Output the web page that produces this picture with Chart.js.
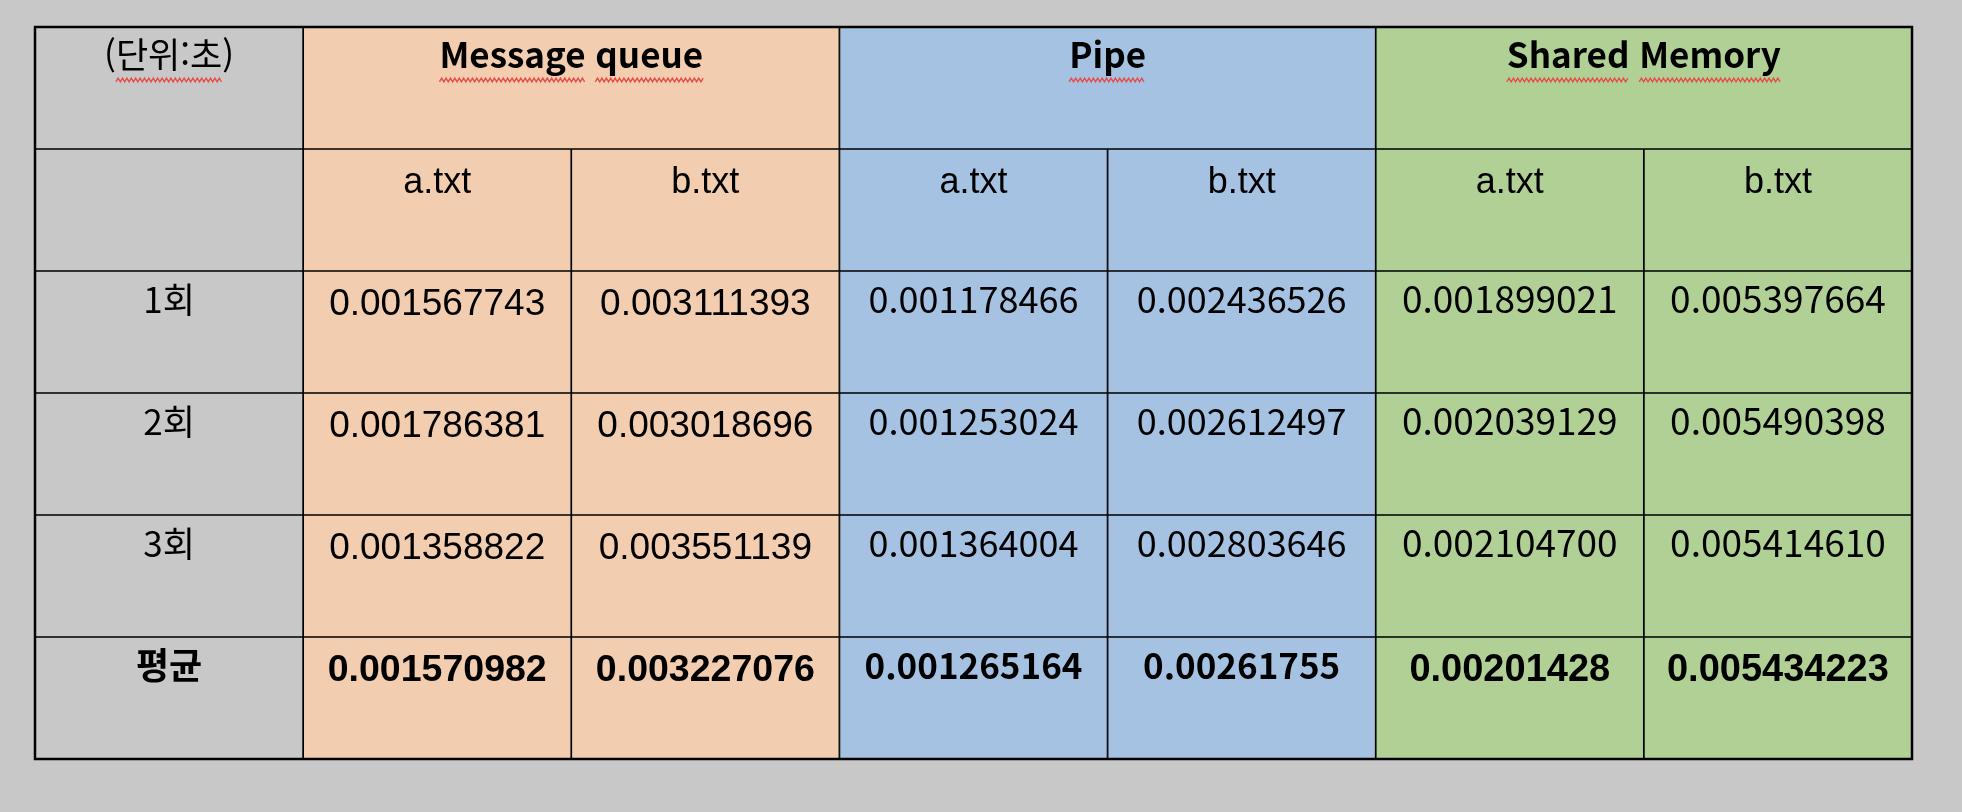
<!DOCTYPE html>
<html lang="ko">
<head>
  <meta charset="UTF-8">
  <title>IPC 비교</title>
  <style>
    body {
      margin: 0;
      background-color: #c8c8c8;
    }
    .wrap {
      width: 1962px;
      height: 812px;
      position: relative;
    }
  </style>
  <script src="https://cdn.jsdelivr.net/npm/chart.js"></script>
</head>
<body>
  <div class="wrap">
    <canvas id="tableChart"></canvas>
  </div>

  <script>
    // table content
    const unitLabel = '(단위:초)';
    const groups = ['Message queue', 'Pipe', 'Shared Memory'];
    const files = ['a.txt', 'b.txt'];
    const runs = ['1회', '2회', '3회', '평균'];

    const mqA = ['0.001567743', '0.001786381', '0.001358822', '0.001570982'];
    const mqB = ['0.003111393', '0.003018696', '0.003551139', '0.003227076'];
    const pipeA = ['0.001178466', '0.001253024', '0.001364004', '0.001265164'];
    const pipeB = ['0.002436526', '0.002612497', '0.002803646', '0.00261755'];
    const shmA = ['0.001899021', '0.002039129', '0.002104700', '0.00201428'];
    const shmB = ['0.005397664', '0.005490398', '0.005414610', '0.005434223'];

    const columns = [[mqA, mqB], [pipeA, pipeB], [shmA, shmB]];
    const rowKeys = ['group', 'file'].concat(runs);

    // styling
    const LAT = '"Liberation Sans", Arial, sans-serif';
    const KR = '"Noto Sans CJK KR", "Noto Sans", sans-serif';
    const grey = '#c8c8c8';
    const groupColors = ['#f2cdb0', '#a5c2e3', '#b1d095'];
    const groupFonts = [
      { reg: '37px ' + LAT, regOff: 44, bold: 'bold 37.5px ' + LAT, boldOff: 44 },
      { reg: '36px ' + KR, regOff: 42, bold: 'bold 35px ' + KR, boldOff: 42 },
      { reg: '37px ' + KR, regOff: 42, bold: 'bold 38px ' + LAT, boldOff: 44 }
    ];

    const datasets = [];

    // first column: row titles
    datasets.push({
      data: rowKeys.map(() => [0, 1]),
      backgroundColor: grey,
      cellText: [unitLabel, ''].concat(runs),
      cellFont: rowKeys.map((k, i) => i === 5 ? 'bold 36px ' + KR : '35px ' + KR),
      cellOff: rowKeys.map((k, i) => i === 0 ? 41 : 42),
      squiggle: [true, false, false, false, false, false]
    });

    groups.forEach((g, gi) => {
      // merged header cell
      datasets.push({
        data: rowKeys.map((k, i) => i === 0 ? [1 + gi * 2, 3 + gi * 2] : null),
        backgroundColor: groupColors[gi],
        cellText: [g],
        cellFont: ['bold 35px ' + KR],
        cellOff: [41],
        squiggle: [true]
      });
      files.forEach((f, fi) => {
        const c = 1 + gi * 2 + fi;
        const vals = columns[gi][fi];
        const fnt = groupFonts[gi];
        datasets.push({
          data: rowKeys.map((k, i) => i === 0 ? null : [c, c + 1]),
          backgroundColor: groupColors[gi],
          cellText: [null, f].concat(vals),
          cellFont: rowKeys.map((k, i) => i === 1 ? '36px ' + LAT : (i === 5 ? fnt.bold : fnt.reg)),
          cellOff: rowKeys.map((k, i) => i === 1 ? 44 : (i === 5 ? fnt.boldOff : fnt.regOff))
        });
      });
    });

    datasets.forEach(ds => {
      ds.borderColor = '#000';
      ds.borderWidth = 1.2;
      ds.borderSkipped = false;
      ds.grouped = false;
      ds.barPercentage = 1;
      ds.categoryPercentage = 1;
    });

    function squiggle(ctx, x0, x1, y) {
      ctx.save();
      ctx.strokeStyle = '#e5504a';
      ctx.lineWidth = 1.4;
      ctx.beginPath();
      let up = true;
      ctx.moveTo(x0, y + 1.8);
      for (let x = x0 + 2.2; x <= x1; x += 2.2) {
        ctx.lineTo(x, up ? y - 1.8 : y + 1.8);
        up = !up;
      }
      ctx.stroke();
      ctx.restore();
    }

    // writes text into every cell, using the bar geometry
    const cellTextPlugin = {
      id: 'cellText',
      afterDatasetsDraw(chart) {
        const ctx = chart.ctx;
        ctx.save();
        ctx.fillStyle = '#000';
        ctx.textAlign = 'center';
        ctx.textBaseline = 'alphabetic';
        chart.data.datasets.forEach((ds, di) => {
          const meta = chart.getDatasetMeta(di);
          meta.data.forEach((bar, i) => {
            const txt = ds.cellText[i];
            if (!txt || ds.data[i] == null) return;
            const p = bar.getProps(['x', 'base', 'y', 'height'], true);
            const cx = (p.x + p.base) / 2;
            const top = p.y - p.height / 2;
            const by = top + ds.cellOff[i];
            ctx.font = ds.cellFont[i];
            ctx.fillText(txt, cx, by);
            if (ds.squiggle && ds.squiggle[i]) {
              const full = ctx.measureText(txt).width;
              let x = cx - full / 2;
              if (txt.startsWith('(')) {
                const pw = ctx.measureText('(').width;
                const iw = ctx.measureText(txt.slice(1, -1)).width;
                squiggle(ctx, x + pw, x + pw + iw, by + 12);
                return;
              }
              const sw = ctx.measureText(' ').width;
              txt.split(' ').forEach(w => {
                const ww = ctx.measureText(w).width;
                squiggle(ctx, x, x + ww, by + 12);
                x += ww + sw;
              });
            }
          });
        });
        // outer frame
        const a = chart.chartArea;
        ctx.strokeStyle = '#000';
        ctx.lineWidth = 2.5;
        ctx.strokeRect(a.left, a.top, a.right - a.left, a.bottom - a.top);
        ctx.restore();
      }
    };

    const chart = new Chart(document.getElementById('tableChart'), {
      type: 'bar',
      data: {
        labels: rowKeys,
        datasets: datasets
      },
      options: {
        indexAxis: 'y',
        responsive: true,
        maintainAspectRatio: false,
        animation: false,
        layout: {
          padding: { left: 35, top: 27, right: 50, bottom: 53 }
        },
        scales: {
          x: { type: 'linear', min: 0, max: 7, display: false },
          y: { type: 'category', display: false }
        },
        plugins: {
          legend: { display: false },
          tooltip: { enabled: false }
        }
      },
      plugins: [cellTextPlugin]
    });
  </script>
</body>
</html>
